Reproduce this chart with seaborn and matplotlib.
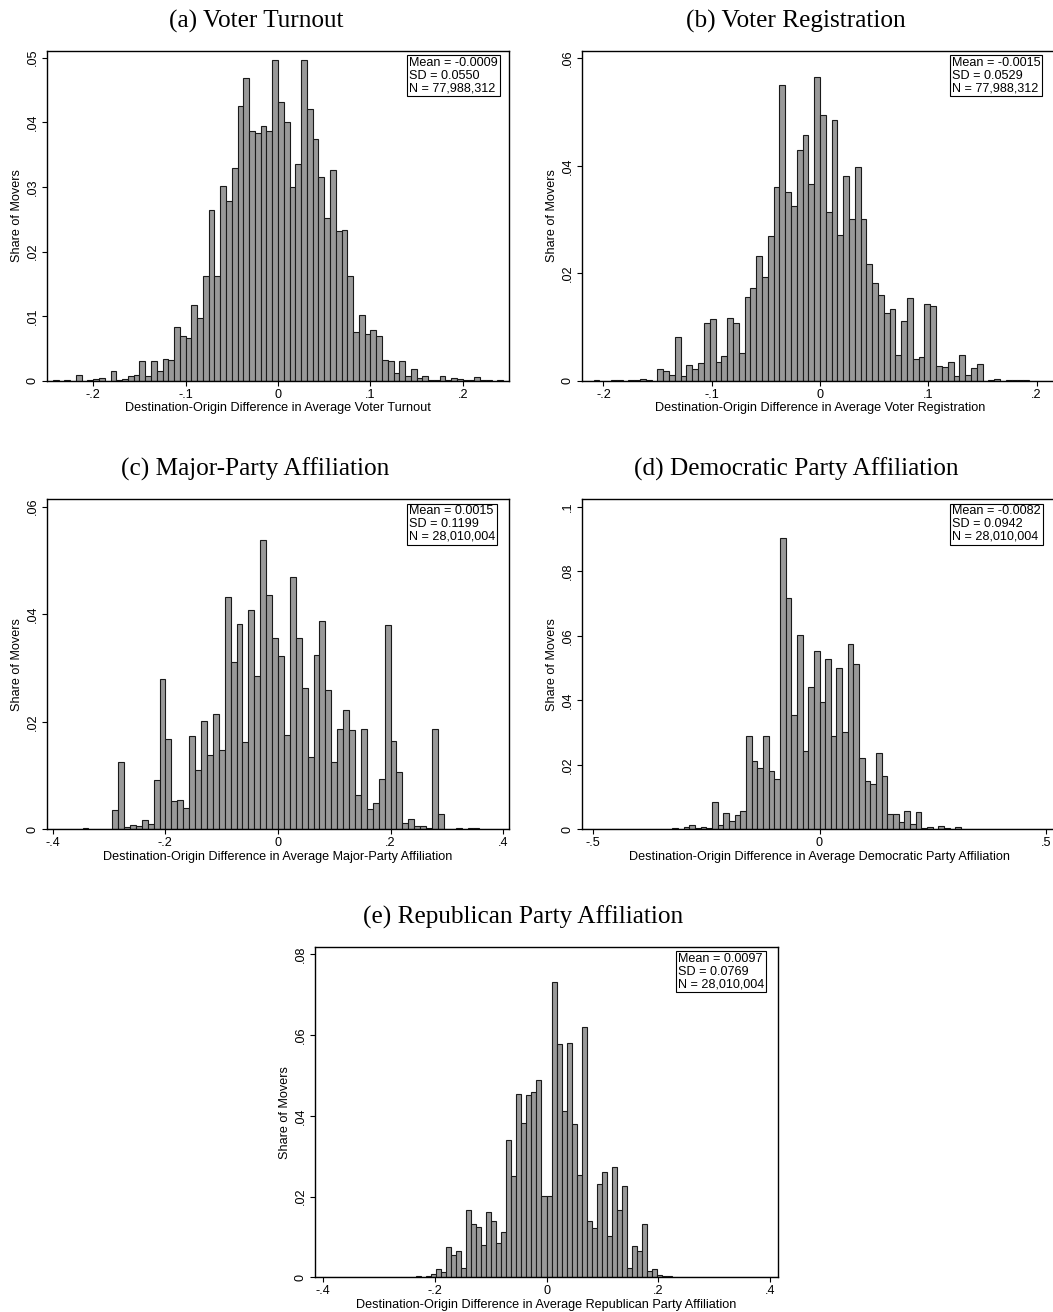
import numpy as np
import pandas as pd
import matplotlib
matplotlib.use("Agg")
import matplotlib.pyplot as plt
import seaborn as sns

# ---------------- data ----------------
turnout_range = (-0.25, 0.25)
turnout_share = [
    0, 0.0001, 0, 0.0001, 0, 0.0010, 0, 0.0001, 0.0003, 0.0004,
    0, 0.0016, 0.0002, 0.0003, 0.0007, 0.0010, 0.0031, 0.0008, 0.0031, 0.0016,
    0.0034, 0.0033, 0.0083, 0.0070, 0.0066, 0.0118, 0.0098, 0.0162, 0.0264, 0.0163,
    0.0301, 0.0279, 0.0330, 0.0425, 0.0469, 0.0386, 0.0384, 0.0395, 0.0387, 0.0497,
    0.0432, 0.0400, 0.0300, 0.0336, 0.0497, 0.0421, 0.0375, 0.0315, 0.0252, 0.0326,
    0.0232, 0.0233, 0.0163, 0.0076, 0.0102, 0.0073, 0.0079, 0.0069, 0.0032, 0.0031,
    0.0013, 0.0031, 0.0007, 0.0018, 0.0004, 0.0008, 0.0001, 0.0001, 0.0008, 0.0001,
    0.0004, 0.0003, 0.0001, 0.0001, 0.0006, 0.0001, 0.0001, 0, 0.0002, 0,
]

registration_range = (-0.2198, 0.2197)
registration_share = [
    0, 0, 0.0001, 0, 0, 0.0001, 0.0001, 0, 0.0001, 0.0001,
    0.0003, 0.0002, 0, 0.0022, 0.0018, 0.0012, 0.0082, 0.0010, 0.0030, 0.0023,
    0.0034, 0.0107, 0.0116, 0.0036, 0.0047, 0.0117, 0.0107, 0.0052, 0.0157, 0.0173,
    0.0232, 0.0194, 0.0270, 0.0360, 0.0550, 0.0352, 0.0326, 0.0429, 0.0458, 0.0366,
    0.0565, 0.0495, 0.0314, 0.0485, 0.0272, 0.0381, 0.0302, 0.0398, 0.0302, 0.0218,
    0.0182, 0.0160, 0.0126, 0.0134, 0.0048, 0.0111, 0.0154, 0.0041, 0.0045, 0.0143,
    0.0139, 0.0028, 0.0026, 0.0035, 0.0009, 0.0048, 0.0012, 0.0025, 0.0031, 0,
    0.0002, 0.0003, 0, 0.0001, 0.0001, 0.0002, 0.0001, 0, 0, 0,
    0, 0,
]

major_range = (-0.41, 0.41)
major_share = [
    0, 0.0001, 0, 0, 0.0001, 0.0001, 0.0002, 0.0001, 0, 0,
    0, 0.0035, 0.0125, 0.0004, 0.0008, 0.0006, 0.0017, 0.0009, 0.0091, 0.0280,
    0.0168, 0.0053, 0.0055, 0.0040, 0.0174, 0.0110, 0.0201, 0.0139, 0.0214, 0.0147,
    0.0432, 0.0312, 0.0382, 0.0163, 0.0407, 0.0285, 0.0539, 0.0436, 0.0355, 0.0322,
    0.0176, 0.0470, 0.0355, 0.0262, 0.0134, 0.0324, 0.0388, 0.0260, 0.0126, 0.0186,
    0.0221, 0.0185, 0.0063, 0.0186, 0.0037, 0.0048, 0.0093, 0.0380, 0.0164, 0.0107,
    0.0011, 0.0020, 0.0007, 0.0007, 0.0003, 0.0186, 0.0029, 0, 0.0001, 0.0003,
    0.0001, 0.0002, 0.0002, 0.0001, 0, 0, 0.0001, 0,
]

dem_range = (-0.525, 0.525)
dem_share = [
    0, 0, 0, 0, 0, 0.0001, 0, 0.0001, 0, 0.0001,
    0, 0, 0, 0, 0.0002, 0.0001, 0.0003, 0.0002, 0.0006, 0.0012,
    0.0003, 0.0007, 0.0004, 0.0085, 0.0012, 0.0051, 0.0026, 0.0044, 0.0057, 0.0290,
    0.0212, 0.0190, 0.0288, 0.0182, 0.0155, 0.0902, 0.0716, 0.0353, 0.0602, 0.0242,
    0.0442, 0.0553, 0.0395, 0.0529, 0.0289, 0.0501, 0.0301, 0.0574, 0.0513, 0.0221,
    0.0150, 0.0140, 0.0237, 0.0166, 0.0047, 0.0048, 0.0023, 0.0057, 0.0015, 0.0055,
    0.0003, 0.0008, 0.0002, 0.0011, 0.0004, 0.0002, 0.0006, 0.0002, 0.0001, 0,
    0, 0, 0, 0, 0.0001, 0, 0.0001, 0, 0.0001, 0,
    0, 0, 0, 0,
]

rep_range = (-0.414, 0.414)
rep_share = [
    0, 0, 0, 0, 0, 0, 0, 0, 0, 0.0001,
    0, 0, 0, 0.0001, 0, 0, 0, 0.0001, 0.0001, 0,
    0.0004, 0.0001, 0.0002, 0.0007, 0.0021, 0.0012, 0.0074, 0.0056, 0.0064, 0.0022,
    0.0166, 0.0133, 0.0124, 0.0079, 0.0161, 0.0140, 0.0086, 0.0113, 0.0341, 0.0252,
    0.0453, 0.0383, 0.0452, 0.0460, 0.0488, 0.0201, 0.0202, 0.0731, 0.0578, 0.0411,
    0.0580, 0.0379, 0.0253, 0.0619, 0.0139, 0.0122, 0.0232, 0.0261, 0.0102, 0.0274,
    0.0166, 0.0226, 0.0024, 0.0078, 0.0064, 0.0133, 0.0015, 0.0020, 0.0005, 0.0004,
    0.0003, 0.0001, 0.0001, 0, 0, 0, 0.0001, 0, 0, 0,
    0.0001, 0, 0, 0, 0, 0, 0, 0, 0, 0,
    0, 0,
]

titles = ["(a) Voter Turnout", "(b) Voter Registration", "(c) Major-Party Affiliation",
          "(d) Democratic Party Affiliation", "(e) Republican Party Affiliation"]
xlabels = ["Destination-Origin Difference in Average Voter Turnout",
           "Destination-Origin Difference in Average Voter Registration",
           "Destination-Origin Difference in Average Major-Party Affiliation",
           "Destination-Origin Difference in Average Democratic Party Affiliation",
           "Destination-Origin Difference in Average Republican Party Affiliation"]
stats_text = ["Mean = -0.0009\nSD = 0.0550\nN = 77,988,312",
              "Mean = -0.0015\nSD = 0.0529\nN = 77,988,312",
              "Mean = 0.0015\nSD = 0.1199\nN = 28,010,004",
              "Mean = -0.0082\nSD = 0.0942\nN = 28,010,004",
              "Mean = 0.0097\nSD = 0.0769\nN = 28,010,004"]
xtick_vals = [[-0.2, -0.1, 0, 0.1, 0.2], [-0.2, -0.1, 0, 0.1, 0.2],
              [-0.4, -0.2, 0, 0.2, 0.4], [-0.5, 0, 0.5], [-0.4, -0.2, 0, 0.2, 0.4]]
xtick_labels = [["-.2", "-.1", "0", ".1", ".2"], ["-.2", "-.1", "0", ".1", ".2"],
                ["-.4", "-.2", "0", ".2", ".4"], ["-.5", "0", ".5"],
                ["-.4", "-.2", "0", ".2", ".4"]]
ytick_vals = [[0, 0.01, 0.02, 0.03, 0.04, 0.05], [0, 0.02, 0.04, 0.06],
              [0, 0.02, 0.04, 0.06], [0, 0.02, 0.04, 0.06, 0.08, 0.1],
              [0, 0.02, 0.04, 0.06, 0.08]]
ytick_labels = [["0", ".01", ".02", ".03", ".04", ".05"], ["0", ".02", ".04", ".06"],
                ["0", ".02", ".04", ".06"], ["0", ".02", ".04", ".06", ".08", ".1"],
                ["0", ".02", ".04", ".06", ".08"]]

shares = [turnout_share, registration_share, major_share, dem_share, rep_share]
ranges = [turnout_range, registration_range, major_range, dem_range, rep_range]

# ---------------- layout / style ----------------
sns.set_style("white")
plt.rcParams["font.family"] = ["Liberation Sans", "DejaVu Sans"]
for key in ["text.color", "axes.labelcolor", "xtick.color", "ytick.color",
            "axes.edgecolor"]:
    plt.rcParams[key] = "black"
SANS = 9.1
SERIF = ["Liberation Serif", "DejaVu Serif"]

W, H = 1053, 1312
fig = plt.figure(figsize=(W / 100, H / 100), dpi=100)
fig.patch.set_facecolor("white")

# frame boxes in pixels: left, right, top, bottom
frames = [(47, 509, 50.7, 381), (582, 1058, 50.7, 381),
          (47, 509, 499.3, 829.3), (582, 1057, 499.3, 829.3),
          (315, 778, 947.3, 1277.3)]
ytops = [0.05108, 0.0614, 0.06138, 0.1023, 0.08173]
title_pos = [(256, 28), (796, 28), (255, 475.5), (796, 475.5), (523, 924)]
box_pos = [(409, 57), (952, 57), (409, 505.5), (952, 505.5), (678, 953)]

for i in range(5):
    l, r, t, b = frames[i]
    ax = fig.add_axes([l / W, 1 - b / H, (r - l) / W, (b - t) / H])
    vals = [float(v) for v in shares[i]]
    edges = np.linspace(ranges[i][0], ranges[i][1], len(vals) + 1)
    centers = (edges[:-1] + edges[1:]) / 2
    df = pd.DataFrame({"diff": centers, "share": vals})
    sns.histplot(data=df, x="diff", weights="share", bins=list(edges), stat="count",
                 ax=ax, color="#999999", edgecolor="#1a1a1a", linewidth=0.8,
                 alpha=1.0)
    ax.set_xlim(ranges[i])
    ax.set_ylim(0, ytops[i])
    ax.set_xticks(xtick_vals[i])
    ax.set_xticklabels(xtick_labels[i], fontsize=SANS)
    ax.set_yticks(ytick_vals[i])
    ax.set_yticklabels(ytick_labels[i], fontsize=SANS, rotation=90, va="center")
    ax.tick_params(axis="both", direction="out", length=3.4, width=0.8,
                   color="black", labelcolor="black", pad=2.4,
                   bottom=True, left=True)
    for s in ax.spines.values():
        s.set_visible(True)
        s.set_color("black")
        s.set_linewidth(1.0)
    ax.set_xlabel(xlabels[i], fontsize=SANS, color="black")
    ax.set_ylabel("Share of Movers", fontsize=SANS, color="black")
    w_ax = r - l
    h_ax = b - t
    ax.xaxis.set_label_coords(0.5, -27.3 / h_ax)
    ax.yaxis.set_label_coords(-30.0 / w_ax, 0.5)
    ax.xaxis.label.set_va("center")
    ax.yaxis.label.set_va("center")
    ax.grid(False)

    tx, ty = title_pos[i]
    fig.text(tx / W, 1 - ty / H, titles[i], family=SERIF, fontsize=18.2,
             color="black", ha="center", va="baseline")
    bx, by = box_pos[i]
    fig.text(bx / W, 1 - by / H, stats_text[i], fontsize=SANS, ha="left", va="top",
             color="black", linespacing=1.08,
             bbox=dict(boxstyle="square,pad=0.14", facecolor="white",
                       edgecolor="black", linewidth=0.8))

fig.savefig("out.png", dpi=100, facecolor="white")
